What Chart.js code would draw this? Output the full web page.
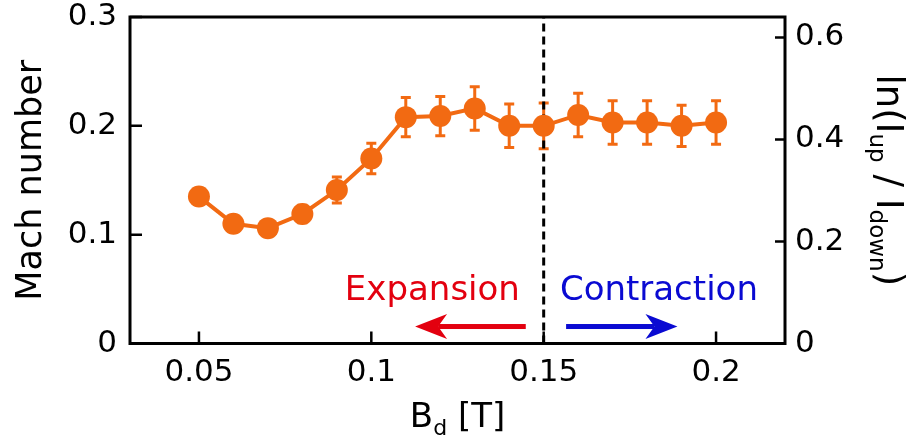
<!DOCTYPE html>
<html>
<head>
<meta charset="utf-8">
<script src="https://cdn.jsdelivr.net/npm/chart.js@4.4.1/dist/chart.umd.min.js"></script>
<style>
	body { margin: 0; background: #fff; }
	#wrap { width: 908px; height: 445px; }
</style>
</head>
<body>
<div id="wrap"><canvas id="machChart" width="908" height="445"></canvas></div>
<script>
// B_d [T] and the Mach number
const fieldB = [0.05, 0.06, 0.07, 0.08, 0.09, 0.10, 0.11, 0.12, 0.13, 0.14, 0.15, 0.16, 0.17, 0.18, 0.19, 0.20];
const mach = [0.135, 0.110, 0.106, 0.119, 0.141, 0.170, 0.208, 0.209, 0.216, 0.200, 0.200, 0.210, 0.203, 0.203, 0.200, 0.203];
const machErr = [0.006, 0.006, 0.006, 0.008, 0.012, 0.014, 0.018, 0.018, 0.020, 0.020, 0.021, 0.020, 0.020, 0.020, 0.019, 0.020];

const xTicks = [0.05, 0.1, 0.15, 0.2];
const xTickLabels = ['0.05', '0.1', '0.15', '0.2'];
const machTicks = [0, 0.1, 0.2, 0.3];
const machTickLabels = ['0', '0.1', '0.2', '0.3'];
const lnTicks = [0, 0.2, 0.4, 0.6];
const lnTickLabels = ['0', '0.2', '0.4', '0.6'];

// boundary between expansion and contraction, and the two arrows (B from -> to)
const boundaryB = 0.15;
const expansionArrow = [0.1448, 0.1127];
const contractionArrow = [0.1565, 0.1888];
const arrowLevel = 0.0156;
const labelLevel = 0.040;
const expansionLabelB = 0.1431;
const contractionLabelB = 0.1547;

const orange = '#f26a12';
const fam = '"DejaVu Sans", sans-serif';
const px = (s) => `${s}px ${fam}`;

function drawRuns(ctx, parts, x, y) {
	let cx = x;
	parts.forEach(([t, size, dy]) => {
		ctx.font = px(size);
		ctx.fillText(t, cx, y + dy);
		cx += ctx.measureText(t).width;
	});
}
function runsWidth(ctx, parts) {
	return parts.reduce((w, [t, size]) => { ctx.font = px(size); return w + ctx.measureText(t).width; }, 0);
}

function arrow(ctx, x0, x1, y, color) {
	const dir = Math.sign(x1 - x0);
	const headLen = 32, halfW = 12.5, notch = 9, shaft = 5;
	const base = x1 - dir * (headLen - notch);
	ctx.fillStyle = color;
	ctx.fillRect(Math.min(x0, base), y - shaft / 2, Math.abs(base - x0), shaft);
	ctx.beginPath();
	ctx.moveTo(x1, y);
	ctx.lineTo(x1 - dir * headLen, y - halfW);
	ctx.lineTo(base, y);
	ctx.lineTo(x1 - dir * headLen, y + halfW);
	ctx.closePath();
	ctx.fill();
}

const errorBars = {
	id: 'errorBars',
	beforeDatasetsDraw(chart) {
		const {ctx, scales: {x, y}} = chart;
		ctx.save();
		ctx.strokeStyle = orange;
		ctx.lineWidth = 3;
		fieldB.forEach((b, i) => {
			const cx = x.getPixelForValue(b);
			const top = y.getPixelForValue(mach[i] + machErr[i]);
			const bot = y.getPixelForValue(mach[i] - machErr[i]);
			ctx.beginPath();
			ctx.moveTo(cx, top); ctx.lineTo(cx, bot);
			ctx.moveTo(cx - 5, top); ctx.lineTo(cx + 5, top);
			ctx.moveTo(cx - 5, bot); ctx.lineTo(cx + 5, bot);
			ctx.stroke();
		});
		ctx.restore();
	}
};

const frameAndText = {
	id: 'frameAndText',
	afterDraw(chart) {
		const {ctx, chartArea: a, scales: {x, y, y2}} = chart;
		ctx.save();
		// frame + inward ticks
		ctx.strokeStyle = '#000';
		ctx.lineWidth = 3;
		ctx.strokeRect(a.left, a.top, a.right - a.left, a.bottom - a.top);
		ctx.lineWidth = 2.5;
		ctx.beginPath();
		xTicks.forEach(v => { const p = x.getPixelForValue(v); ctx.moveTo(p, a.bottom); ctx.lineTo(p, a.bottom - 12); });
		machTicks.forEach(v => { const p = y.getPixelForValue(v); ctx.moveTo(a.left, p); ctx.lineTo(a.left + 12, p); });
		lnTicks.forEach(v => { const p = y2.getPixelForValue(v); ctx.moveTo(a.right, p); ctx.lineTo(a.right - 10, p); });
		ctx.stroke();

		// arrows and labels
		const ay = y.getPixelForValue(arrowLevel);
		arrow(ctx, x.getPixelForValue(expansionArrow[0]), x.getPixelForValue(expansionArrow[1]), ay, '#e3000f');
		arrow(ctx, x.getPixelForValue(contractionArrow[0]), x.getPixelForValue(contractionArrow[1]), ay, '#0a0ad2');
		const ly = y.getPixelForValue(labelLevel);
		ctx.font = px(34);
		ctx.textBaseline = 'alphabetic';
		ctx.fillStyle = '#e3000f';
		ctx.textAlign = 'right';
		ctx.fillText('Expansion', x.getPixelForValue(expansionLabelB), ly);
		ctx.fillStyle = '#0a0ad2';
		ctx.textAlign = 'left';
		ctx.fillText('Contraction', x.getPixelForValue(contractionLabelB), ly);

		// axis titles
		ctx.fillStyle = '#000';
		const midX = (a.left + a.right) / 2, midY = (a.top + a.bottom) / 2;
		const xTitle = [['B', 34, 0], ['d', 22, 8], [' [T]', 34, 0]];
		drawRuns(ctx, xTitle, midX - runsWidth(ctx, xTitle) / 2, 427);

		ctx.save();
		ctx.translate(41, midY);
		ctx.rotate(-Math.PI / 2);
		ctx.font = px(35);
		ctx.textAlign = 'center';
		ctx.fillText('Mach number', 0, 0);
		ctx.restore();

		ctx.save();
		ctx.translate(877, midY);
		ctx.rotate(Math.PI / 2);
		ctx.textAlign = 'left';
		const rTitle = [['ln(I', 37, 0], ['up', 23, 7], [' / I', 37, 0], ['down', 23, 7], [')', 37, 0]];
		drawRuns(ctx, rTitle, -runsWidth(ctx, rTitle) / 2, 0);
		ctx.restore();

		ctx.restore();
	}
};

const tickFont = {family: fam, size: 31, lineHeight: 1};
const noPad = s => { s.paddingTop = 0; s.paddingBottom = 0; };

new Chart(document.getElementById('machChart'), {
	type: 'line',
	data: {
		datasets: [
			{
				data: fieldB.map((b, i) => ({x: b, y: mach[i]})),
				borderColor: orange,
				backgroundColor: orange,
				borderWidth: 4,
				pointRadius: 11,
				pointBorderWidth: 0,
				pointBackgroundColor: orange,
				yAxisID: 'y',
				order: 1
			},
			{
				data: [{x: boundaryB, y: 0}, {x: boundaryB, y: 0.3}],
				borderColor: '#000',
				borderWidth: 3,
				borderDash: [8, 5],
				pointRadius: 0,
				yAxisID: 'y',
				order: 2
			}
		]
	},
	options: {
		responsive: false,
		animation: false,
		events: [],
		layout: {padding: {top: 17, left: 0, right: 0, bottom: 0}},
		plugins: {legend: {display: false}, tooltip: {enabled: false}},
		scales: {
			x: {
				type: 'linear', min: 0.03, max: 0.22,
				grid: {display: false, drawTicks: false}, border: {display: false},
				afterBuildTicks: s => { s.ticks = xTicks.map(v => ({value: v})); },
				ticks: {font: tickFont, color: '#000', padding: 14, maxRotation: 0, autoSkip: false,
					callback: (v, i) => xTickLabels[i]},
				afterFit: s => { s.height = 101.5; }
			},
			y: {
				position: 'left', min: 0, max: 0.3,
				grid: {display: false, drawTicks: false}, border: {display: false},
				afterBuildTicks: s => { s.ticks = machTicks.map(v => ({value: v})); },
				ticks: {font: tickFont, color: '#000', padding: 13, autoSkip: false,
					callback: (v, i) => machTickLabels[i]},
				afterFit: s => { s.width = 130; noPad(s); }
			},
			y2: {
				position: 'right', min: 0, max: 0.64,
				grid: {display: false, drawTicks: false}, border: {display: false},
				afterBuildTicks: s => { s.ticks = lnTicks.map(v => ({value: v})); },
				ticks: {font: tickFont, color: '#000', padding: 10, autoSkip: false,
					callback: (v, i) => lnTickLabels[i]},
				afterFit: s => { s.width = 123; noPad(s); }
			}
		}
	},
	plugins: [errorBars, frameAndText]
});
</script>
</body>
</html>
